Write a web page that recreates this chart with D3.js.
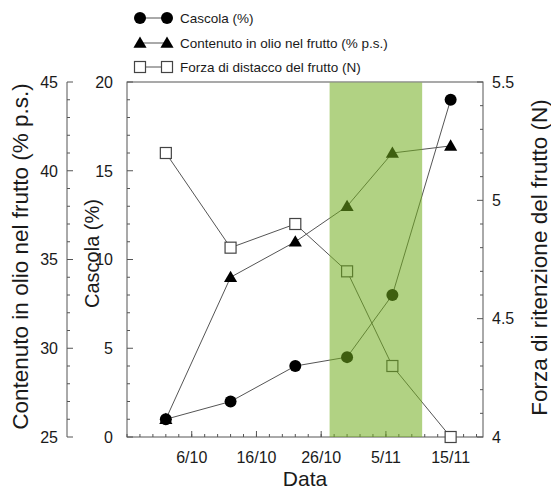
<!DOCTYPE html>
<html>
<head>
<meta charset="utf-8">
<script src="https://cdn.jsdelivr.net/npm/d3@7"></script>
<style>
  body { margin: 0; background: #fff; }
  text { font-family: "Liberation Sans", Arial, sans-serif; fill: #1a1a1a; }
</style>
</head>
<body>
<div id="chart"></div>
<script>
// sampling dates (day/month)
var dates = ["2/10", "12/10", "22/10", "30/10", "6/11", "15/11"];
var cascola = [1, 2, 4, 4.5, 8, 19];           // %
var olio = [26, 34, 36, 38, 41, 41.4];         // % p.s.
var forza = [5.2, 4.8, 4.9, 4.7, 4.3, 4.0];    // N
var xTickLabels = ["6/10", "16/10", "26/10", "5/11", "15/11"];
var band = ["27.3/10", "10.6/11"];
var xDomain = ["26/9", "20/11"];

// "d/m" -> Date (day may carry a fraction)
var parse = function(s) {
  var p = s.split("/");
  return new Date(new Date(2023, +p[1] - 1, 1).getTime() + (+p[0] - 1) * 864e5);
};

var width = 551, height = 490;
var pL = 127, pR = 483, pT = 82, pB = 437;

var svg = d3.select("#chart").append("svg")
    .attr("width", width)
    .attr("height", height);

var x = d3.scaleTime().domain(xDomain.map(parse)).range([pL, pR]);
var yC = d3.scaleLinear().domain([0, 20]).range([pB, pT]);
var yO = d3.scaleLinear().domain([25, 45]).range([pB, pT]);
var yF = d3.scaleLinear().domain([4, 5.5]).range([pB, pT]);

var axisColor = "#555";

// frame
svg.append("rect")
    .attr("x", pL).attr("y", pT)
    .attr("width", pR - pL).attr("height", pB - pT)
    .attr("fill", "none").attr("stroke", axisColor).attr("stroke-width", 1);

// x ticks (inside, pointing up)
var xd = x.domain();
var minorX = d3.timeDay.range(xd[0], d3.timeDay.offset(xd[1], 1), 2);
svg.append("g").selectAll("line").data(minorX).join("line")
    .attr("x1", d => x(d)).attr("x2", d => x(d))
    .attr("y1", pB).attr("y2", pB - 3)
    .attr("stroke", axisColor);
svg.append("g").selectAll("line").data(xTickLabels).join("line")
    .attr("x1", d => x(parse(d))).attr("x2", d => x(parse(d)))
    .attr("y1", pB).attr("y2", pB - 6)
    .attr("stroke", axisColor);
svg.append("g").selectAll("text").data(xTickLabels).join("text")
    .attr("x", d => x(parse(d))).attr("y", pB + 26)
    .attr("text-anchor", "middle")
    .style("font-size", "16px")
    .text(d => d);

function yTicks(scale, xPos, dir, minor, major, fmt, labelX, anchor) {
  var g = svg.append("g");
  var d = scale.domain();
  var n = Math.round((d[1] - d[0]) / minor);
  var vals = d3.range(n + 1).map(i => d[0] + i * minor);
  g.selectAll("line").data(vals).join("line")
      .attr("x1", xPos)
      .attr("x2", v => xPos + dir * (Math.abs(Math.round(v / major) * major - v) < 1e-6 ? 6 : 3))
      .attr("y1", v => scale(v)).attr("y2", v => scale(v))
      .attr("stroke", axisColor);
  var m = Math.round((d[1] - d[0]) / major);
  var majors = d3.range(m + 1).map(i => d[0] + i * major);
  g.selectAll("text").data(majors).join("text")
      .attr("x", labelX).attr("y", v => scale(v))
      .attr("dy", "0.36em")
      .attr("text-anchor", anchor)
      .style("font-size", "16px")
      .text(fmt);
}

// outer left axis (olio)
svg.append("line")
    .attr("x1", 67).attr("x2", 67).attr("y1", pT).attr("y2", pB)
    .attr("stroke", axisColor);
yTicks(yO, 67, 1, 1, 5, d3.format("d"), 58, "end");
// inner left axis (cascola)
yTicks(yC, pL, 1, 1, 5, d3.format("d"), 113, "end");
// right axis (forza)
yTicks(yF, pR, -1, 0.1, 0.5, d => String(+d.toFixed(1)), 492, "start");

// axis titles
var midY = (pT + pB) / 2;
svg.append("text")
    .attr("transform", "translate(28," + (midY - 3) + ") rotate(-90)")
    .attr("text-anchor", "middle").style("font-size", "22.5px")
    .text("Contenuto in olio nel frutto (% p.s.)");
svg.append("text")
    .attr("transform", "translate(99," + (midY - 6) + ") rotate(-90)")
    .attr("text-anchor", "middle").style("font-size", "20px")
    .text("Cascola (%)");
svg.append("text")
    .attr("transform", "translate(547," + (midY - 2) + ") rotate(-90)")
    .attr("text-anchor", "middle").style("font-size", "22.5px")
    .text("Forza di ritenzione del frutto (N)");
svg.append("text")
    .attr("x", (pL + pR) / 2).attr("y", 486)
    .attr("text-anchor", "middle").style("font-size", "21px")
    .text("Data");

var lineColor = "#555";
var pts = dates.map(parse);

function series(vals, scale) {
  var line = d3.line().x((d, i) => x(pts[i])).y(d => scale(d));
  svg.append("path").datum(vals)
      .attr("d", line)
      .attr("fill", "none").attr("stroke", lineColor).attr("stroke-width", 1);
}
series(forza, yF);
series(olio, yO);
series(cascola, yC);

var tri = d3.symbol().type(d3.symbolTriangle).size(75);
var sq = 11;

svg.append("g").selectAll("rect").data(forza).join("rect")
    .attr("x", (d, i) => x(pts[i]) - sq / 2).attr("y", d => yF(d) - sq / 2)
    .attr("width", sq).attr("height", sq)
    .attr("fill", "#fff").attr("stroke", "#444").attr("stroke-width", 1.2);
svg.append("g").selectAll("path").data(olio).join("path")
    .attr("d", tri)
    .attr("transform", (d, i) => "translate(" + x(pts[i]) + "," + (yO(d) + 1) + ")")
    .attr("fill", "#000");
svg.append("g").selectAll("circle").data(cascola).join("circle")
    .attr("cx", (d, i) => x(pts[i])).attr("cy", d => yC(d))
    .attr("r", 6).attr("fill", "#000");

// green harvest window (drawn over the marks, semi transparent)
svg.append("rect")
    .attr("x", x(parse(band[0]))).attr("y", pT + 0.5)
    .attr("width", x(parse(band[1])) - x(parse(band[0])))
    .attr("height", pB - pT - 0.5)
    .attr("fill", "#71ad1e").attr("fill-opacity", 0.55);

// legend
var legend = [
  {label: "Cascola (%)", kind: "circle", y: 18},
  {label: "Contenuto in olio nel frutto (% p.s.)", kind: "tri", y: 43},
  {label: "Forza di distacco del frutto (N)", kind: "square", y: 67}
];
var lg = svg.append("g");
legend.forEach(function(l) {
  var x1 = 140, x2 = 167;
  lg.append("line").attr("x1", x1).attr("x2", x2).attr("y1", l.y).attr("y2", l.y)
      .attr("stroke", lineColor);
  [x1, x2].forEach(function(cx) {
    if (l.kind === "circle") {
      lg.append("circle").attr("cx", cx).attr("cy", l.y).attr("r", 6).attr("fill", "#000");
    } else if (l.kind === "tri") {
      lg.append("path").attr("d", tri).attr("transform", "translate(" + cx + "," + (l.y + 1) + ")")
          .attr("fill", "#000");
    } else {
      lg.append("rect").attr("x", cx - sq / 2).attr("y", l.y - sq / 2)
          .attr("width", sq).attr("height", sq)
          .attr("fill", "#fff").attr("stroke", "#444").attr("stroke-width", 1.2);
    }
  });
  lg.append("text").attr("x", 180).attr("y", l.y).attr("dy", "0.36em")
      .style("font-size", "13.5px").text(l.label);
});
</script>
</body>
</html>
